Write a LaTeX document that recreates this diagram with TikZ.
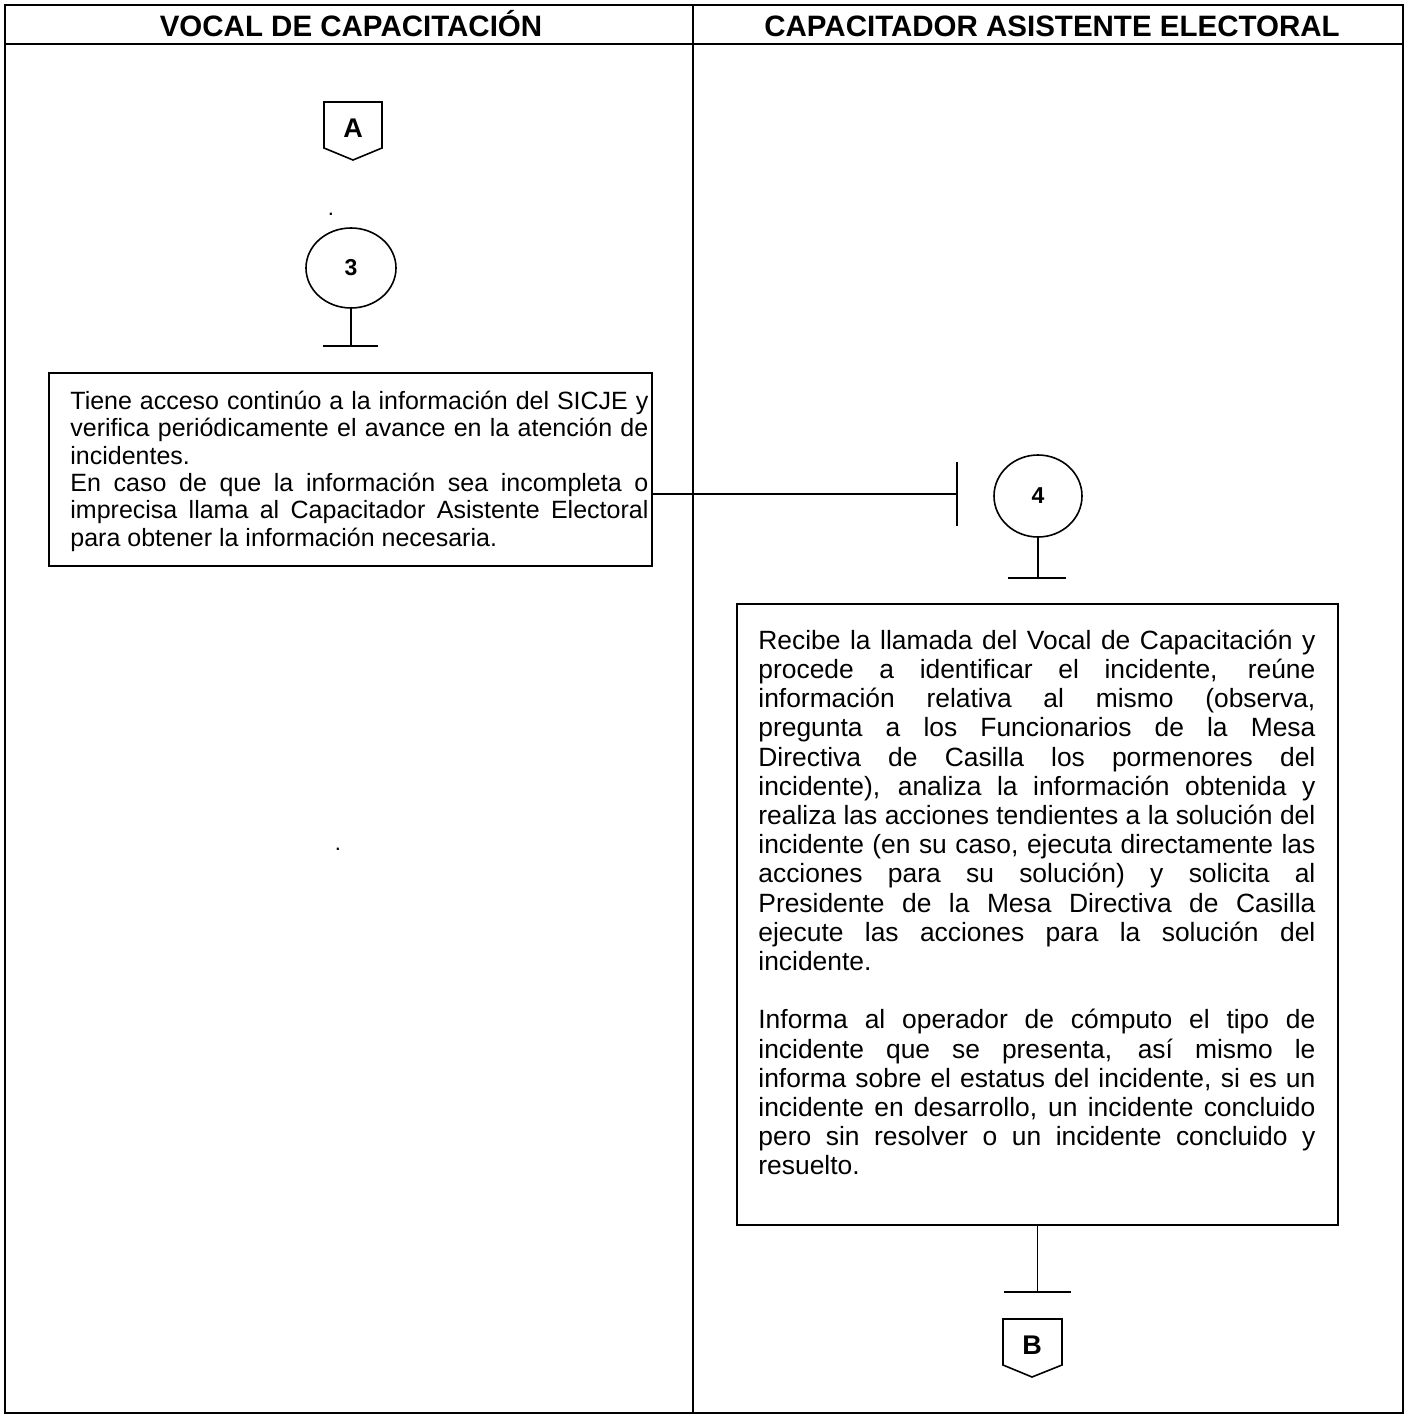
\documentclass[tikz,border=0pt]{standalone}
\usepackage{fontspec}
\setmainfont{Liberation Sans}
\usetikzlibrary{shapes.geometric,calc}
\newcommand{\jl}[1]{\makebox[\hsize][s]{#1}\\}
\begin{document}
\begin{tikzpicture}[x=1pt,y=-1pt,
  frame/.style={line width=2.2pt},
  ln/.style={line width=1.6pt},
  boxo/.style={draw, line width=1.6pt, rectangle, inner sep=0pt},
  txta/.style={inner sep=0pt, text width=#1, align=justify, anchor=base west, font=\fontsize{25}{27.4}\selectfont},
  txtb/.style={inner sep=0pt, text width=#1, align=justify, anchor=base west, font=\fontsize{26.4}{29.2}\selectfont},
  circ/.style={draw, ellipse, line width=1.6pt, inner sep=0pt, minimum width=90pt, minimum height=80pt, font=\fontsize{23}{24}\selectfont\bfseries},
  hdr/.style={font=\fontsize{29.5}{31}\selectfont\bfseries, inner sep=0pt, anchor=base},
  lbl/.style={font=\fontsize{27}{28}\selectfont\bfseries, inner sep=0pt},
  dot/.style={font=\fontsize{22}{22}\selectfont, inner sep=0pt, anchor=base}
]
\useasboundingbox (0,0) rectangle (1405,1416);
% frame
\draw[frame] (5,5) rectangle (1403,1413);
\draw[frame] (5,44) -- (1403,44);
\draw[frame] (693,5) -- (693,1413);
\node[hdr] (h1) at (351,36) {VOCAL DE CAPACITACIÓN};
\node[hdr] (h2) at (1052,36) {CAPACITADOR ASISTENTE ELECTORAL};
% connector A
\node[lbl] (A) at (353,128) {A};
\draw[ln] ($(A)+(-29,-26)$) -- ($(A)+(29,-26)$) -- ($(A)+(29,20)$) -- ($(A)+(0,32)$) -- ($(A)+(-29,20)$) -- cycle;
\node[dot] (d1) at (331,215) {.};
% circle 3
\node[circ] (c3) at (351,268) {3};
\draw[ln] (c3.south) -- (351,346) coordinate (t3);
\draw[ln] ([xshift=-28pt]t3) -- ([xshift=27pt]t3);
% box 1
\node[boxo, minimum width=603pt, minimum height=193pt] (b1) at (350.5,469.5) {};
\node[txta=578pt] (b1t) at ([shift={(22,37)}]b1.north west) {%
\jl{Tiene acceso continúo a la información del SICJE y}
\jl{verifica periódicamente el avance en la atención de}
incidentes.\\
\jl{En caso de que la información sea incompleta o}
\jl{imprecisa llama al Capacitador Asistente Electoral}
para obtener la información necesaria.};
% connection to 4
\coordinate (bar) at (957,494);
\draw[ln] (b1.east |- bar) -- (bar);
\draw[ln] ([yshift=32pt]bar) -- ([yshift=-32pt]bar);
\node[circ, minimum width=88pt, minimum height=82pt] (c4) at (1038,496) {4};
\draw[ln] (c4.south) -- (1038,578) coordinate (t4);
\draw[ln] ([xshift=-30pt]t4) -- ([xshift=28pt]t4);
\node[dot] (d2) at (338,850) {.};
% box 2
\node[boxo, minimum width=601pt, minimum height=621pt] (b2) at (1037.5,914.5) {};
\node[txtb=557pt] (b2t) at ([shift={(22,46)}]b2.north west) {%
\jl{Recibe la llamada del Vocal de Capacitación y}
\jl{procede a identificar el incidente, reúne}
\jl{información relativa al mismo (observa,}
\jl{pregunta a los Funcionarios de la Mesa}
\jl{Directiva de Casilla los pormenores del}
\jl{incidente), analiza la información obtenida y}
\jl{realiza las acciones tendientes a la solución del}
\jl{incidente (en su caso, ejecuta directamente las}
\jl{acciones para su solución) y solicita al}
\jl{Presidente de la Mesa Directiva de Casilla}
\jl{ejecute las acciones para la solución del}
incidente.\\
\mbox{}\\
\jl{Informa al operador de cómputo el tipo de}
\jl{incidente que se presenta, así mismo le}
\jl{informa sobre el estatus del incidente, si es un}
\jl{incidente en desarrollo, un incidente concluido}
\jl{pero sin resolver o un incidente concluido y}
resuelto.};
% stem to B
\draw[ln] (b2.south) -- (b2.south |- 0,1292) coordinate (t5);
\draw[ln] ([xshift=-34pt]t5) -- ([xshift=33pt]t5);
\node[lbl] (B) at (1032,1345) {B};
\draw[ln] ($(B)+(-29,-26)$) -- ($(B)+(30,-26)$) -- ($(B)+(30,20)$) -- ($(B)+(0,32)$) -- ($(B)+(-29,20)$) -- cycle;
\end{tikzpicture}
\end{document}
